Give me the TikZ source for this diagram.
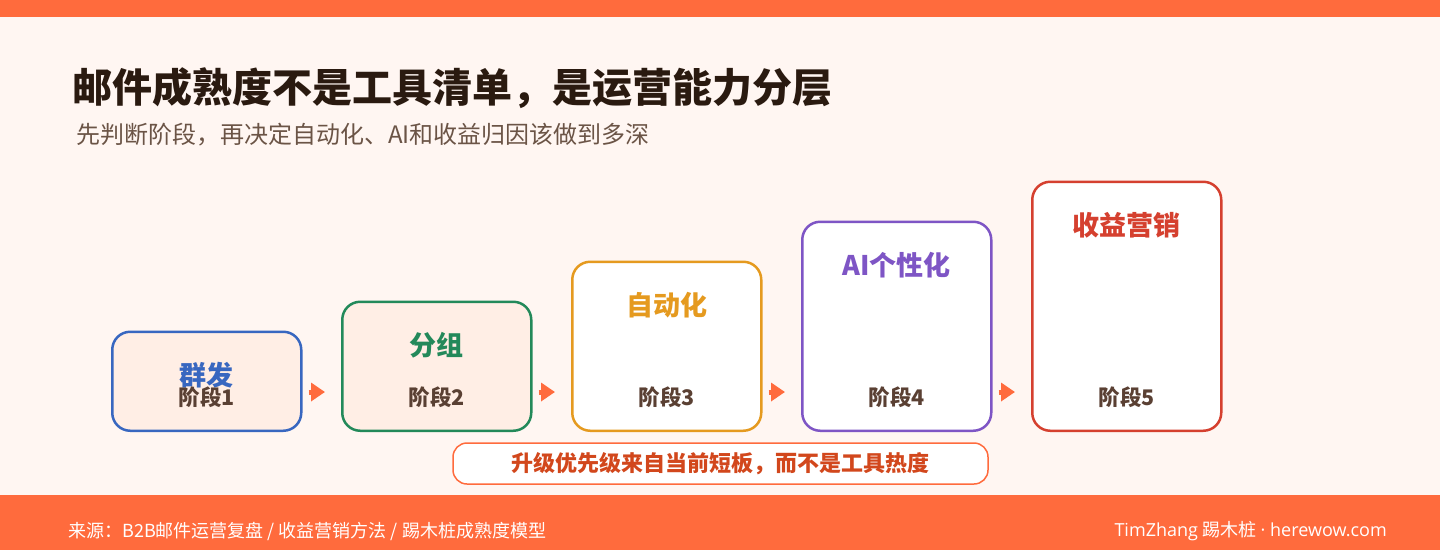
\documentclass[tikz,border=0pt]{standalone}
\usepackage{fontspec}
\setmainfont{Noto Sans CJK SC}
\newfontfamily\latinfont{Open Sans}
\usetikzlibrary{arrows.meta, positioning, calc}
\definecolor{brand}{HTML}{FF6B3D}
\definecolor{paper}{HTML}{FFF6F2}
\definecolor{ink}{HTML}{2A1A10}
\definecolor{subink}{HTML}{6B5446}
\definecolor{numink}{HTML}{5A4033}
\definecolor{peach}{HTML}{FFEEE5}
\definecolor{lvblue}{HTML}{3867C0}
\definecolor{lvgreen}{HTML}{23895A}
\definecolor{lvamber}{HTML}{E59A1F}
\definecolor{lvpurple}{HTML}{7E55C5}
\definecolor{lvred}{HTML}{D5402F}
\definecolor{noteink}{HTML}{D2471C}
\tikzset{
  stage/.style={rectangle, draw=#1, line width=2.5pt, rounded corners=18pt,
                minimum width=189, anchor=south west, inner sep=0pt},
  lvl/.style={font=\bfseries\fontsize{27}{31}\selectfont, inner sep=0pt},
  num/.style={font=\bfseries\fontsize{21.5}{25}\selectfont, text=numink, inner sep=0pt},
  flow/.style={-{Triangle[length=14pt,width=18pt]}, draw=brand, fill=brand, line width=5pt},
}

\begin{document}
\begin{tikzpicture}[
  x=1pt, y=-1pt,
  bar/.style={fill=brand, draw=none},
  foot/.style={text=white, font=\fontsize{18}{21}\selectfont, inner sep=0pt},
]
  \fill[paper] (0,0) rectangle (1440,550);
  \fill[bar] (0,0) rectangle (1440,17);
  \fill[bar] (0,495) rectangle (1440,550);

  \node[anchor=west, inner sep=0pt, text=ink, font=\bfseries\fontsize{40}{46}\selectfont]
    (title) at (72,88) {邮件成熟度不是工具清单，是运营能力分层};
  \node[anchor=west, inner sep=0pt, text=subink, font=\fontsize{24}{28}\selectfont]
    (sub) at (76,135) {先判断阶段，再决定自动化、AI和收益归因该做到多深};

  % stairs
  \node[stage=lvblue, fill=peach, minimum height=99] (s1) at (111,432) {};
  \node[stage=lvgreen, fill=peach, minimum height=129] (s2) at (341,432) {};
  \node[stage=lvamber, fill=white, minimum height=169] (s3) at (571,432) {};
  \node[stage=lvpurple, fill=white, minimum height=209] (s4) at (801,432) {};
  \node[stage=lvred, fill=white, minimum height=249] (s5) at (1031,432) {};

  \node[lvl, text=lvblue] (t1) at ([yshift=-45pt]s1.north) {群发};
  \node[lvl, text=lvgreen] (t2) at ([yshift=-45pt]s2.north) {分组};
  \node[lvl, text=lvamber] (t3) at ([yshift=-45pt]s3.north) {自动化};
  \node[lvl, text=lvpurple] (t4) at ([yshift=-45pt]s4.north) {AI个性化};
  \node[lvl, text=lvred] (t5) at ([yshift=-45pt]s5.north) {收益营销};

  \node[num] (n1) at ([yshift=35pt]s1.south) {阶段1};
  \node[num] (n2) at ([yshift=35pt]s2.south) {阶段2};
  \node[num] (n3) at ([yshift=35pt]s3.south) {阶段3};
  \node[num] (n4) at ([yshift=35pt]s4.south) {阶段4};
  \node[num] (n5) at ([yshift=35pt]s5.south) {阶段5};

  \draw[flow] ($(s1.south east)+(6,-40)$) -- ($(s2.south west)+(-16,-40)$);
  \draw[flow] ($(s2.south east)+(6,-40)$) -- ($(s3.south west)+(-16,-40)$);
  \draw[flow] ($(s3.south east)+(6,-40)$) -- ($(s4.south west)+(-16,-40)$);
  \draw[flow] ($(s4.south east)+(6,-40)$) -- ($(s5.south west)+(-16,-40)$);

  \node[draw=brand, fill=white, line width=1.5pt, rounded corners=14pt,
        minimum width=535, minimum height=41, inner sep=0pt,
        text=noteink, font=\bfseries\fontsize{22}{26}\selectfont]
    (note) at (720.5,463.5) {升级优先级来自当前短板，而不是工具热度};

  \node[foot, anchor=west] (src) at (68,531) {来源：B2B邮件运营复盘 / 收益营销方法 / 踢木桩成熟度模型};
  \node[foot, anchor=east] (sign) at (1387,531) {{\latinfont TimZhang} 踢木桩{\latinfont{} · herewow.com}};
\end{tikzpicture}
\end{document}
